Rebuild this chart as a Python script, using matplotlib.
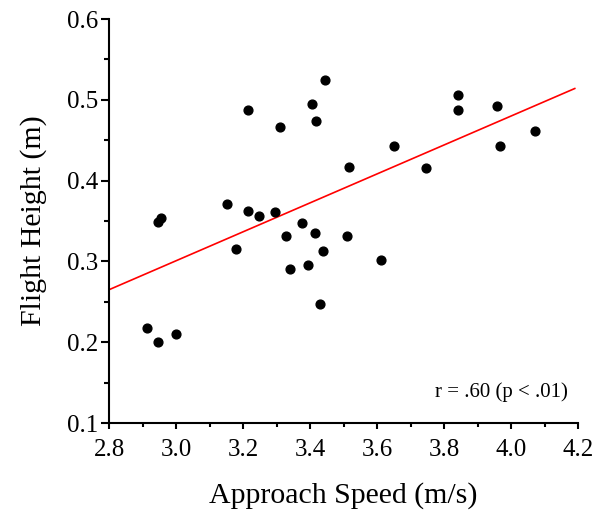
import matplotlib.pyplot as plt
from matplotlib.ticker import MultipleLocator

plt.rcParams['font.family'] = ['Liberation Serif', 'DejaVu Serif']

# approach speed (m/s) and flight height (m)
speed = [3.445, 3.405, 3.417, 3.216, 3.309, 3.517, 3.151, 3.216, 3.249, 3.296,
         3.375, 2.954, 2.946, 3.842, 3.842, 3.959, 3.967, 4.072, 3.649, 3.746,
         2.912, 2.946, 3.001, 3.179, 3.327, 3.341, 3.395, 3.416, 3.440, 3.431,
         3.510, 3.613]
height = [0.524, 0.495, 0.474, 0.488, 0.466, 0.417, 0.371, 0.362, 0.356, 0.361,
          0.348, 0.354, 0.349, 0.506, 0.488, 0.492, 0.443, 0.462, 0.443, 0.416,
          0.217, 0.200, 0.210, 0.315, 0.331, 0.291, 0.296, 0.335, 0.313, 0.247,
          0.332, 0.302]

# regression line end points
fit_x = [2.8, 4.19]
fit_y = [0.265, 0.514]

fig = plt.figure(figsize=(5.96, 5.14), dpi=100)
ax = fig.add_axes([0.183, 0.177, 0.787, 0.786])

ax.plot(fit_x, fit_y, color='red', lw=1.2)
ax.scatter(speed, height, s=40, color='black', zorder=3)

ax.set_xlim(2.8, 4.2)
ax.set_ylim(0.1, 0.6)
ax.xaxis.set_major_locator(MultipleLocator(0.2))
ax.xaxis.set_minor_locator(MultipleLocator(0.1))
ax.yaxis.set_major_locator(MultipleLocator(0.1))
ax.yaxis.set_minor_locator(MultipleLocator(0.05))
ax.xaxis.set_major_formatter(plt.FormatStrFormatter('%.1f'))
ax.yaxis.set_major_formatter(plt.FormatStrFormatter('%.1f'))

for side in ['top', 'right']:
    ax.spines[side].set_visible(False)
for side in ['left', 'bottom']:
    ax.spines[side].set_linewidth(1.5)
ax.tick_params(which='both', direction='out', width=1.5, labelsize=18)
ax.tick_params(axis='x', which='major', length=4.5, pad=7)
ax.tick_params(axis='x', which='minor', length=3)
ax.tick_params(axis='y', which='major', length=6, pad=1.5)
ax.tick_params(axis='y', which='minor', length=3.5)

ax.set_xlabel('Approach Speed (m/s)', fontsize=21.5, labelpad=15)
ax.set_ylabel('Flight Height (m)', fontsize=21.5, labelpad=15)

ax.text(0.979, 0.065, 'r = .60 (p < .01)', transform=ax.transAxes,
        ha='right', va='baseline', fontsize=15)

fig.savefig('out.png', dpi=100)
